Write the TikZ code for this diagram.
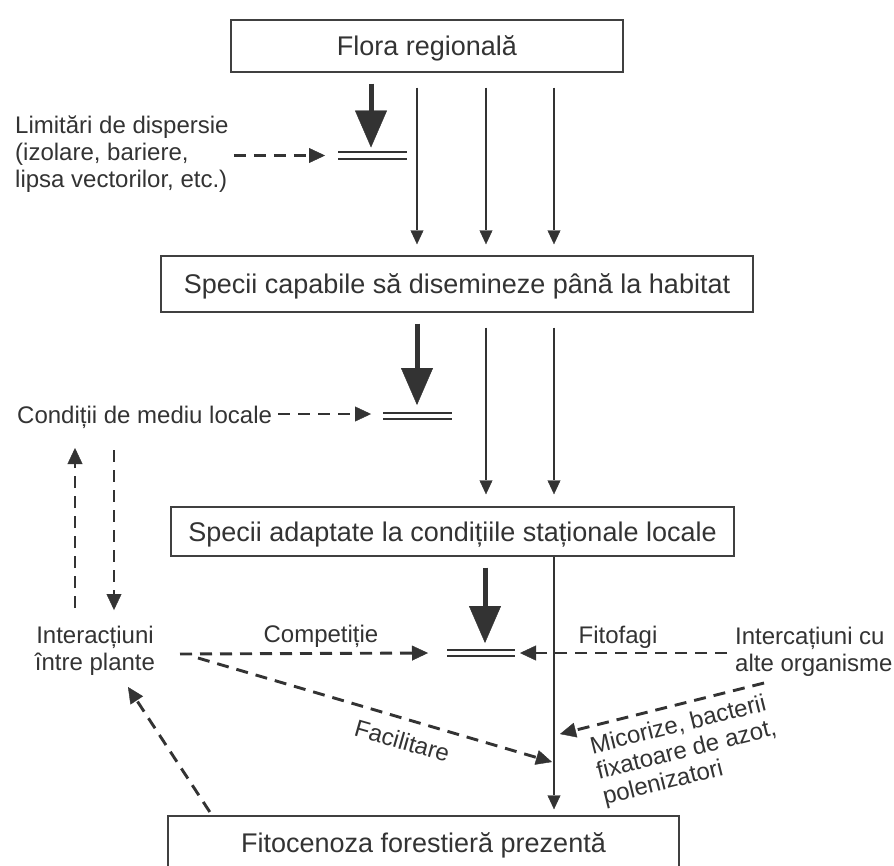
\documentclass[tikz,border=0pt]{standalone}
\usepackage{fontspec}
\setmainfont{Liberation Sans}
\usetikzlibrary{arrows.meta,calc}
\definecolor{ink}{HTML}{333333}
\definecolor{edge}{HTML}{404040}
\begin{document}
\begin{tikzpicture}[x=1pt,y=-1pt,
  box/.style={draw=edge, line width=1.4pt, inner sep=0pt, text=ink,
    font=\fontsize{27}{32}\selectfont, text height=19.3pt, text depth=0pt},
  lbl/.style={inner sep=0pt, text=ink, font=\fontsize{24}{27}\selectfont},
  thinarr/.style={draw=ink, line width=1.2pt, -{Triangle[length=14pt,width=13pt,line width=0.4pt]}},
  thickarr/.style={draw=ink, line width=5pt, -{Triangle[length=37pt,width=32pt,line width=0.4pt]}},
  dsh/.style={draw=ink, line width=2.9pt, dash pattern=on 12pt off 8pt,
    -{Triangle[length=16pt,width=15pt,line width=0.4pt]}},
  barline/.style={draw=ink, line width=2pt, double=white}
]
\useasboundingbox (0,0) rectangle (894,865);
\clip (0,0) rectangle (894,865);
\fill[white] (0,0) rectangle (894,865);

% boxes
\node[box, minimum width=392pt, minimum height=52pt] (flora) at (427,46) {Flora regională};
\node[box, minimum width=592pt, minimum height=56pt] (disp) at (457,284) {Specii capabile să disemineze până la habitat};
\node[box, minimum width=563pt, minimum height=49pt] (adapt) at (452.5,531.5) {Specii adaptate la condițiile staționale locale};
\node[box, minimum width=511pt, minimum height=54pt] (fito) at (423.5,843) {Fitocenoza forestieră prezentă};

% labels (base anchor of a multi-line node = baseline of its last line)
\node[lbl, align=left, anchor=base west] (lim) at (15,187) {Limitări de dispersie\\(izolare, bariere,\\lipsa vectorilor, etc.)};
\node[lbl, anchor=base west] (cond) at (17,423) {Condiții de mediu locale};
\node[lbl, align=center, anchor=base] (inter) at (95,670) {Interacțiuni\\între plante};
\node[lbl, align=left, anchor=base west] (alte) at (735,671) {Intercațiuni cu\\alte organisme};
\node[lbl, anchor=base] (comp) at (321,642) {Competiție};
\node[lbl, anchor=base] (fitof) at (618,643) {Fitofagi};
\node[lbl, anchor=base, rotate=-16] (facil) at (400,749) {Facilitare};
\node[lbl, align=left, anchor=base west, rotate=14, font=\fontsize{24}{26}\selectfont] (mic) at (605,804.5) {Micorize, bacterii\\fixatoare de azot,\\polenizatori};

% bars (filters)
\coordinate (b1) at (372.5,155.5);
\coordinate (b2) at (417.5,416);
\coordinate (b3) at (481,653);
\draw[barline, double distance=5pt] ([xshift=-34.5pt]b1) -- ([xshift=34.5pt]b1);
\draw[barline, double distance=4pt] ([xshift=-34.5pt]b2) -- ([xshift=34.5pt]b2);
\draw[barline, double distance=4pt] ([xshift=-34pt]b3) -- ([xshift=34pt]b3);

% thick arrows
\draw[thickarr, shorten <=11pt] ([xshift=-56pt]flora.south) -- ([xshift=-1.5pt,yshift=8pt]b1);
\draw[thickarr, shorten <=11pt] ([xshift=-40pt]disp.south) -- ([xshift=-0.5pt,yshift=11pt]b2);
\draw[thickarr, shorten <=11pt] ([xshift=32.5pt]adapt.south) -- ([xshift=4pt,yshift=10pt]b3);

% thin arrows
\draw[thinarr, shorten <=15pt, shorten >=11pt] ([xshift=-10pt]flora.south) -- ([xshift=-40pt]disp.north);
\draw[thinarr, shorten <=15pt, shorten >=11pt] ([xshift=59pt]flora.south) -- ([xshift=29pt]disp.north);
\draw[thinarr, shorten <=15pt, shorten >=11pt] ([xshift=127pt]flora.south) -- ([xshift=97pt]disp.north);
\draw[thinarr, shorten <=15pt, shorten >=12pt] ([xshift=29pt]disp.south) -- ([xshift=33.5pt]adapt.north);
\draw[thinarr, shorten <=15pt, shorten >=12pt] ([xshift=97pt]disp.south) -- ([xshift=101.5pt]adapt.north);
\draw[thinarr, shorten >=6pt] ([xshift=101.5pt]adapt.south) -- ([xshift=130.5pt]fito.north);

% dashed connectors
\coordinate (u1) at (75,608);  \coordinate (u2) at (75,448);
\coordinate (d1) at (114,450); \coordinate (d2) at (114,610);
\coordinate (ci) at (180,654);
\coordinate (fi) at (198,658); \coordinate (fe) at (552,762);
\coordinate (ms) at (764,683); \coordinate (me) at (560,734);
\coordinate (fb) at (128,687);
\coordinate (c2) at (371,414);

\draw[dsh, shorten <=5pt] (lim.east |- b1) -- ([xshift=-47.5pt]b1);
\draw[dsh, shorten <=6pt] (cond.east |- c2) -- (c2);
\draw[dsh] (u1) -- (u2);
\draw[dsh] (d1) -- (d2);
\draw[dsh] (ci) -- ([xshift=-53pt]b3);
\draw[dsh, shorten <=8pt] (alte.west |- b3) -- ([xshift=39pt]b3);
\draw[dsh] (fi) -- (fe);
\draw[dsh] (ms) -- (me);
\draw[dsh, shorten <=4pt] ([xshift=-211.5pt]fito.north) -- (fb);
\end{tikzpicture}
\end{document}
